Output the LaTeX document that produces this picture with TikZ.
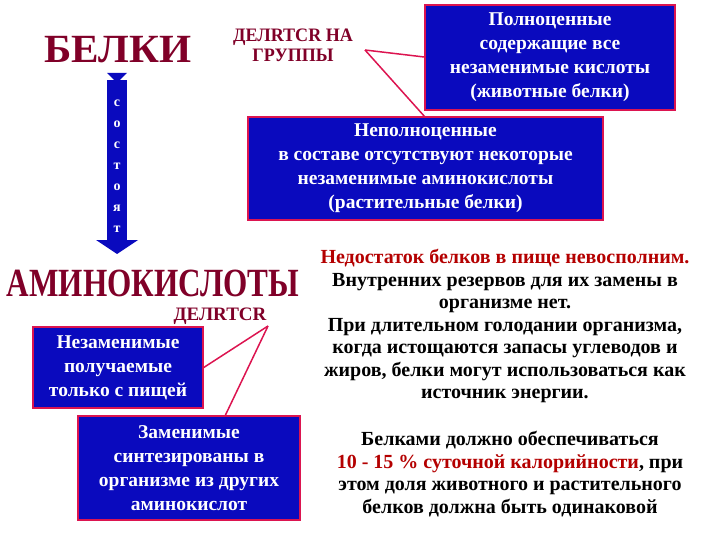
\documentclass[tikz,border=0pt]{standalone}
\usepackage{fontspec}
\setmainfont{Liberation Serif}
\definecolor{maroon}{RGB}{128,0,40}
\definecolor{bx}{RGB}{10,10,190}
\definecolor{rl}{RGB}{220,20,80}
\definecolor{txr}{RGB}{180,0,0}
\begin{document}
\begin{tikzpicture}[x=1pt,y=-1pt,
 bbox/.style={draw=rl,line width=1.5pt,fill=bx,text=white,font=\bfseries\fontsize{19.5}{24}\selectfont,align=center,inner sep=0pt},
 title/.style={text=maroon,font=\bfseries\fontsize{40}{40}\selectfont},
 lab/.style={text=maroon,font=\bfseries\fontsize{19}{20}\selectfont,align=center},
 con/.style={draw=rl,line width=1.5pt},
 rt/.style={font=\bfseries\fontsize{20}{22.5}\selectfont,align=center}]
\useasboundingbox (0,0) rectangle (720,540);
\node[title,xscale=1.03] (belki) at (118,50) {БЕЛКИ};
\node[title,xscale=0.78] (amino) at (153,283) {АМИНОКИСЛОТЫ};
\node[lab,xscale=0.95] (del1) at (293,45) {ДЕЛRTCR НА\\ГРУППЫ};
\node[lab] (del2) at (220,316) {ДЕЛRTCR};
\node[bbox,minimum width=250,minimum height=105] (full) at (550,57.5) {Полноценные\\содержащие все\\незаменимые кислоты\\(животные белки)};
\node[bbox,minimum width=355,minimum height=103] (part) at (425.5,168.5) {Неполноценные\\в составе отсутствуют некоторые\\незаменимые аминокислоты\\(растительные белки)};
\node[bbox,minimum width=170,minimum height=81] (nez) at (118,367.5) {Незаменимые\\получаемые\\только с пищей};
\node[bbox,minimum width=222,minimum height=104] (zam) at (189,468) {Заменимые\\синтезированы в\\организме из других\\аминокислот};
\coordinate (p1) at (365,50);
\coordinate (p2) at (268,326);
\draw[con] (p1) -- (full.west |- 0,57);
\draw[con] (p1) -- (425,117);
\draw[con] (p2) -- (nez.east);
\draw[con] (p2) -- (225,416);
\fill[bx] (107,73) -- (127,73) -- (117,83) -- cycle;
\fill[bx] (107,80) rectangle (127,240);
\fill[bx] (96,240) -- (138,240) -- (117,254) -- cycle;
\node[text=white,font=\bfseries\fontsize{14}{21}\selectfont,align=center] (sost) at (117,166) {с\\о\\с\\т\\о\\я\\т};
\node[rt] (t1) at (505,326) {\textcolor{txr}{Недостаток белков в пище невосполним.}\\Внутренних резервов для их замены в\\организме нет.\\При длительном голодании организма,\\когда истощаются запасы углеводов и\\жиров, белки могут использоваться как\\источник энергии.};
\node[rt] (t2) at (510,474) {Белками должно обеспечиваться\\\textcolor{txr}{10 - 15 \% суточной калорийности}, при\\этом доля животного и растительного\\белков должна быть одинаковой};
\end{tikzpicture}
\end{document}
